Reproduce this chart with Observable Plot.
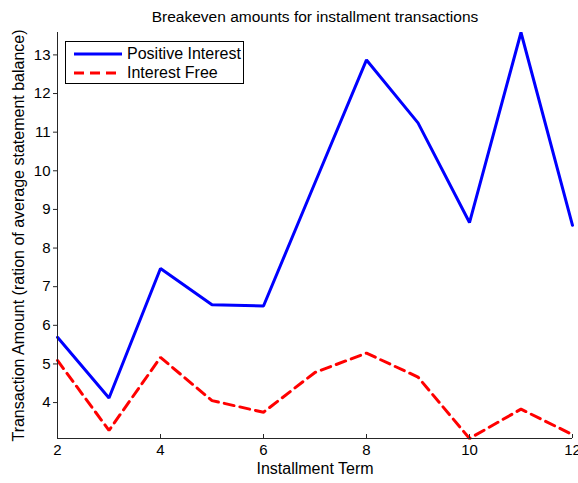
<!DOCTYPE html>
<html>
<head>
<meta charset="utf-8">
<script src="https://cdn.jsdelivr.net/npm/d3@7"></script>
<script src="https://cdn.jsdelivr.net/npm/@observablehq/plot@0.6"></script>
<style>
  html, body { margin: 0; padding: 0; background: #fff; }
  #chart { position: relative; width: 578px; height: 483px; }
  .legend {
    position: absolute; left: 65px; top: 41px; width: 179px; height: 43px;
    border: 1px solid #000; background: #fff; box-sizing: border-box;
    font-family: "Liberation Sans", Arial, sans-serif; font-size: 16px; color: #000;
  }
  .legend .row { position: absolute; left: 8px; height: 18px; display: flex; align-items: center; }
  .legend svg { margin-right: 5px; }
</style>
</head>
<body>
<div id="chart"></div>
<script>
const terms = [2, 3, 4, 5, 6, 7, 8, 9, 10, 11, 12];
const positiveInterest = [5.69, 4.12, 7.47, 6.53, 6.50, 9.69, 12.87, 11.24, 8.66, 13.58, 8.59];
const interestFree = [5.09, 3.28, 5.17, 4.05, 3.75, 4.78, 5.28, 4.66, 3.07, 3.83, 3.17];
const xTicks = [2, 4, 6, 8, 10, 12];
const yTicks = [4, 5, 6, 7, 8, 9, 10, 11, 12, 13];
const seriesNames = ["Positive Interest", "Interest Free"];
const title = "Breakeven amounts for installment transactions";
const xLabel = "Installment Term";
const yLabel = "Transaction Amount (ration of average statement balance)";

const posData = terms.map((t, i) => ({term: t, value: positiveInterest[i]}));
const freeData = terms.map((t, i) => ({term: t, value: interestFree[i]}));
const yMin = d3.min([...positiveInterest, ...interestFree]);
const yMax = d3.max([...positiveInterest, ...interestFree]);
const axisColor = "#262626";
const font = "'Liberation Sans', Arial, sans-serif";

const chart = Plot.plot({
  width: 578,
  height: 483,
  marginLeft: 57,
  marginRight: 6,
  marginTop: 32,
  marginBottom: 45,
  style: {fontFamily: font, fontSize: "15px", color: "#000", background: "#fff", overflow: "visible"},
  x: {domain: [2, 12]},
  y: {domain: [yMin, yMax]},
  marks: [
    Plot.lineY(posData, {x: "term", y: "value", stroke: "#0000ff", strokeWidth: 3, strokeLinejoin: "miter"}),
    Plot.lineY(freeData, {x: "term", y: "value", stroke: "#ff0000", strokeWidth: 3, strokeDasharray: "10,6", strokeLinejoin: "miter"}),
    Plot.ruleX([2], {stroke: axisColor, strokeWidth: 1}),
    Plot.ruleY([yMin], {stroke: axisColor, strokeWidth: 1}),
    Plot.axisX({ticks: xTicks, tickSize: -4, tickFormat: () => "", stroke: axisColor, label: null}),
    Plot.axisX({ticks: xTicks, tickSize: 0, tickPadding: 6, label: null, fontSize: 15, fill: "#000"}),
    Plot.axisY({ticks: yTicks, tickSize: 4, tickPadding: 3, stroke: axisColor, label: null, fontSize: 15, fill: "#000"}),
    Plot.text([title], {frameAnchor: "top", dy: -11, lineAnchor: "bottom", fontSize: 15.5, fill: "#000"}),
    Plot.text([xLabel], {frameAnchor: "bottom", dy: 30, lineAnchor: "middle", fontSize: 16, fill: "#000"}),
    Plot.text([yLabel], {frameAnchor: "left", dx: -39, rotate: -90, textAnchor: "middle", lineAnchor: "middle", fontSize: 16, fill: "#000"})
  ]
});
const container = document.getElementById("chart");
container.appendChild(chart);

const legend = document.createElement("div");
legend.className = "legend";
const styles = [{color: "#0000ff", dash: null}, {color: "#ff0000", dash: "10,6"}];
seriesNames.forEach((name, i) => {
  const row = document.createElement("div");
  row.className = "row";
  row.style.top = (3 + i * 19) + "px";
  row.innerHTML = `<svg width="48" height="6"><line x1="0" x2="48" y1="3" y2="3" stroke="${styles[i].color}" stroke-width="3" ${styles[i].dash ? `stroke-dasharray="${styles[i].dash}"` : ""}/></svg><span>${name}</span>`;
  legend.appendChild(row);
});
container.appendChild(legend);
</script>
</body>
</html>
